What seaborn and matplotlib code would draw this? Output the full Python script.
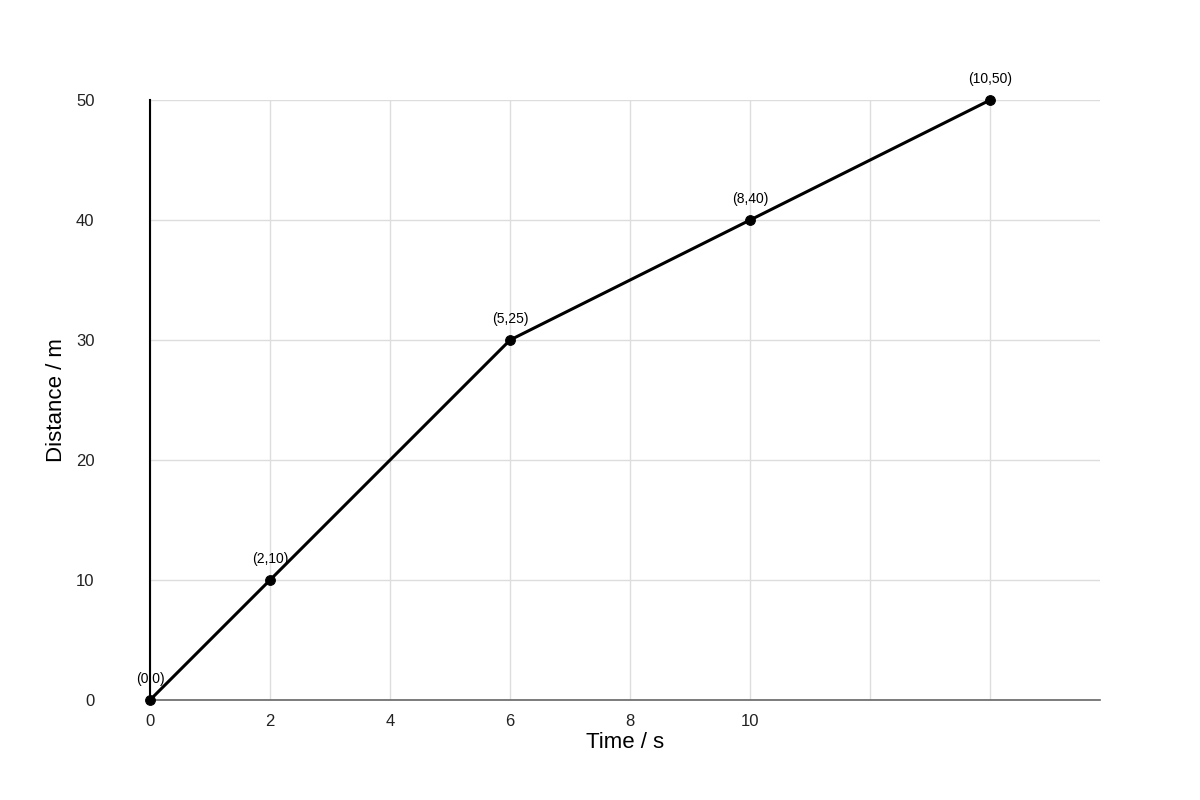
import matplotlib
matplotlib.use("Agg")
import matplotlib.pyplot as plt
import seaborn as sns
import pandas as pd

x_pos = [0, 2, 6, 10, 14]
distance = [0, 10, 30, 40, 50]
point_labels = ["(0,0)", "(2,10)", "(5,25)", "(8,40)", "(10,50)"]
x_ticks = [0, 2, 4, 6, 8, 10, 12, 14]
x_tick_labels = ["0", "2", "4", "6", "8", "10", "", ""]
y_ticks = [0, 10, 20, 30, 40, 50]

sns.set_theme(style="white")
plt.rcParams['font.family'] = ['Liberation Sans', 'DejaVu Sans']

fig = plt.figure(figsize=(12, 8), dpi=100)
ax = fig.add_axes([0.125, 0.125, 0.7917, 0.75])
df = pd.DataFrame({"t": x_pos, "d": distance})
sns.lineplot(data=df, x="t", y="d", ax=ax, color="black", linewidth=2.2,
             marker="o", markersize=7, markeredgecolor="black", zorder=3, clip_on=False)
for xv, yv, lab in zip(x_pos, distance, point_labels):
    ax.annotate(lab, (xv, yv), xytext=(0, 10), textcoords="offset points",
                ha="center", va="bottom", fontsize=10, color="black")
ax.set_xlim(0, 15.83)
ax.set_ylim(0, 50)
ax.set_xticks(x_ticks)
ax.set_xticklabels(x_tick_labels)
ax.set_yticks(y_ticks)
ax.tick_params(axis="both", labelsize=12, length=0, colors="#222222")
ax.tick_params(axis="y", pad=40)
ax.tick_params(axis="x", pad=10)
ax.grid(True, color="#dddddd", linewidth=1)
for s in ["top", "right"]:
    ax.spines[s].set_visible(False)
ax.spines["left"].set_color("black")
ax.spines["left"].set_linewidth(1.5)
ax.spines["bottom"].set_color("#666666")
ax.spines["bottom"].set_linewidth(1.2)
ax.set_xlabel("Time / s", fontsize=16, color="black", labelpad=2)
ax.set_ylabel("Distance / m", fontsize=16, color="black", labelpad=6)
fig.savefig("out.png", dpi=100)
